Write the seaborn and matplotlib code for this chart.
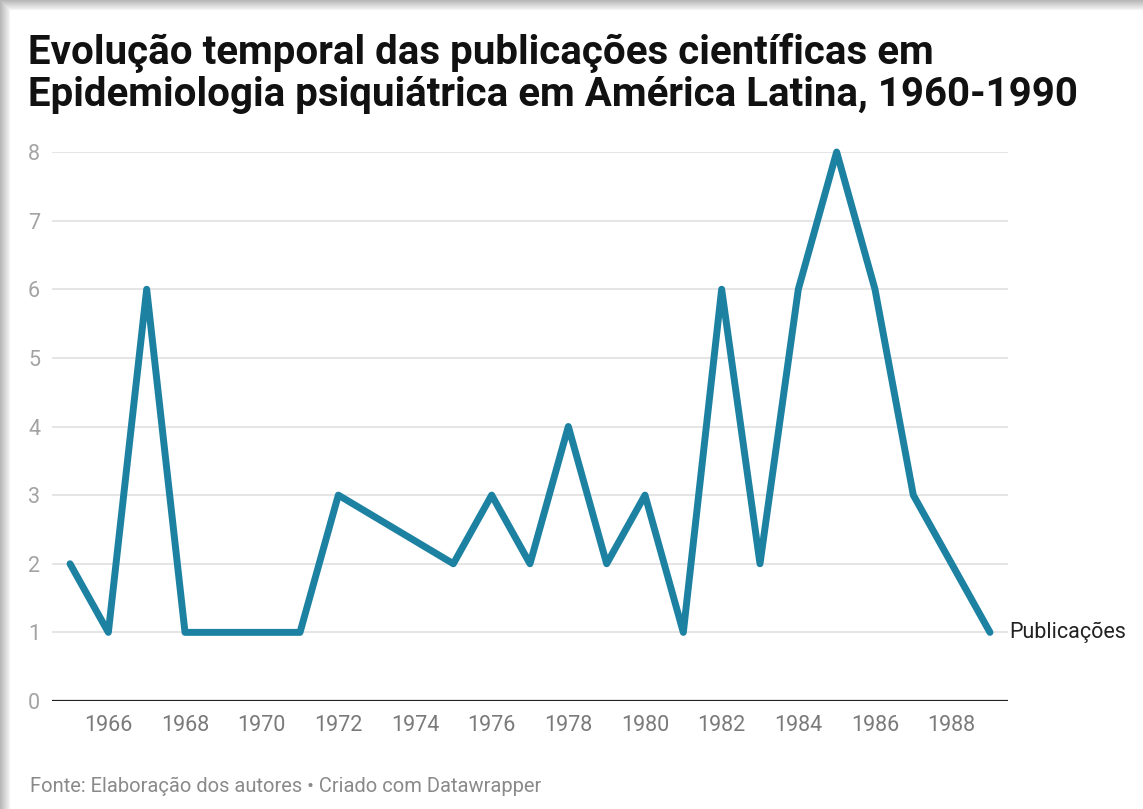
import numpy as np
import pandas as pd
import matplotlib
matplotlib.use("Agg")
import matplotlib.pyplot as plt
import seaborn as sns

# Data
years = [1965, 1966, 1967, 1968, 1969, 1970, 1971, 1972, 1975, 1976, 1977,
         1978, 1979, 1980, 1981, 1982, 1983, 1984, 1985, 1986, 1987, 1988, 1989]
publicacoes = [2, 1, 6, 1, 1, 1, 1, 3, 2, 3, 2,
               4, 2, 3, 1, 6, 2, 6, 8, 6, 3, 2, 1]
x_ticks = [1966, 1968, 1970, 1972, 1974, 1976, 1978, 1980, 1982, 1984, 1986, 1988]
y_ticks = [0, 1, 2, 3, 4, 5, 6, 7, 8]

title = "Evolução temporal das publicações científicas em\nEpidemiologia psiquiátrica em América Latina, 1960-1990"
footer = "Fonte: Elaboração dos autores • Criado com Datawrapper"
series_label = "Publicações"

df = pd.DataFrame({"ano": years, "publicacoes": publicacoes})

sns.set_style("white")
plt.rcParams["font.family"] = ["Roboto", "DejaVu Sans"]

LINE = "#1d81a2"

fig = plt.figure(figsize=(11.43, 8.09), dpi=100)

# card shadow along top and left edges
bg = fig.add_axes([0, 0, 1, 1], zorder=-10)
W, H = 1143, 809
img = np.ones((H, W))
shade = np.linspace(0.72, 0.95, 10)
for i, v in enumerate(shade):
    img[i, :] = np.minimum(img[i, :], v)
    img[:, i] = np.minimum(img[:, i], v)
bg.imshow(img, cmap="gray", vmin=0, vmax=1, aspect="auto",
          extent=[0, W, H, 0], interpolation="bilinear")
bg.set_axis_off()

ax = fig.add_axes([52 / W, 1 - 701 / H, (1008 - 52) / W, (701 - 152) / H])
ax.patch.set_alpha(0)

sns.lineplot(data=df, x="ano", y="publicacoes", ax=ax, color=LINE,
             linewidth=5, solid_joinstyle="round", solid_capstyle="round",
             clip_on=False, zorder=3)

ax.set_xlim(1964.53, 1989.47)
ax.set_ylim(0, 8)
ax.set_xticks(x_ticks)
ax.set_yticks(y_ticks)
ax.set_xlabel("")
ax.set_ylabel("")

for y in y_ticks[1:]:
    ax.axhline(y, color="#e3e3e3", linewidth=1.3, zorder=1)
ax.axhline(0, color="#222222", linewidth=1.6, zorder=2)

sns.despine(ax=ax, left=True, bottom=True)
ax.tick_params(axis="x", length=0, pad=10, labelsize=15.5, labelcolor="#7a7a7a")
ax.tick_params(axis="y", length=0, labelsize=15.5, labelcolor="#a3a3a3", pad=0)
for lab in ax.get_yticklabels():
    lab.set_horizontalalignment("left")
    lab.set_x(-0.025)

ax.text(1989.5, publicacoes[-1], series_label, fontsize=15.5, color="#222222",
        va="center", ha="left")

fig.text(28 / W, 1 - 33 / H, title, fontsize=29, fontweight="bold",
         color="#111111", va="top", ha="left", linespacing=1.1)
fig.text(30 / W, 1 - 786 / H, footer, fontsize=14.5, color="#8a8a8a",
         va="center", ha="left")

plt.savefig("out.png", dpi=100)
